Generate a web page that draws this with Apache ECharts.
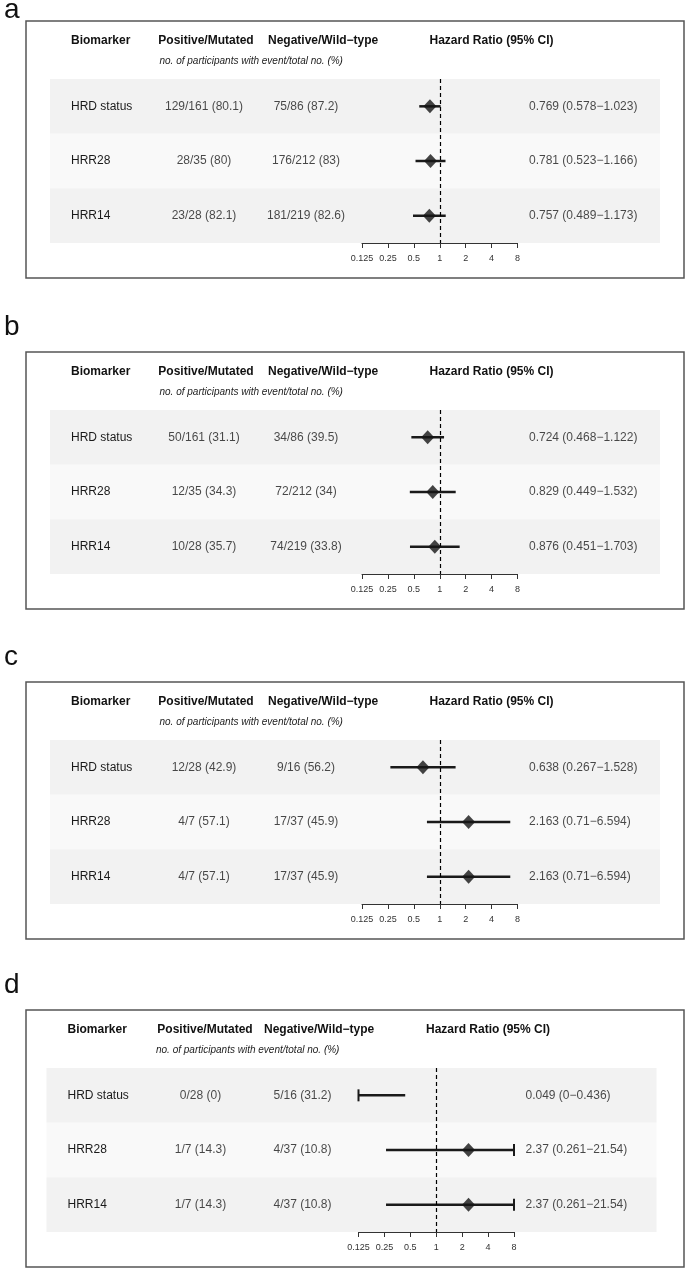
<!DOCTYPE html>
<html>
<head>
<meta charset="utf-8">
<script src="https://cdn.jsdelivr.net/npm/echarts@6/dist/echarts.min.js"></script>
<style>
html, body { margin: 0; padding: 0; background: #fff; }
#chart { width: 685px; height: 1268px; }
</style>
</head>
<body>
<div id="chart"></div>
<script>
// panel data
const panels = ['a', 'b', 'c', 'd'];
const biomarkers = ['HRD status', 'HRR28', 'HRR14'];
const positive = [
    ['129/161 (80.1)', '28/35 (80)', '23/28 (82.1)'],
    ['50/161 (31.1)', '12/35 (34.3)', '10/28 (35.7)'],
    ['12/28 (42.9)', '4/7 (57.1)', '4/7 (57.1)'],
    ['0/28 (0)', '1/7 (14.3)', '1/7 (14.3)']
];
const negative = [
    ['75/86 (87.2)', '176/212 (83)', '181/219 (82.6)'],
    ['34/86 (39.5)', '72/212 (34)', '74/219 (33.8)'],
    ['9/16 (56.2)', '17/37 (45.9)', '17/37 (45.9)'],
    ['5/16 (31.2)', '4/37 (10.8)', '4/37 (10.8)']
];
const hr = [
    [0.769, 0.781, 0.757],
    [0.724, 0.829, 0.876],
    [0.638, 2.163, 2.163],
    [0.049, 2.37, 2.37]
];
const lower = [
    [0.578, 0.523, 0.489],
    [0.468, 0.449, 0.451],
    [0.267, 0.71, 0.71],
    [0, 0.261, 0.261]
];
const upper = [
    [1.023, 1.166, 1.173],
    [1.122, 1.532, 1.703],
    [1.528, 6.594, 6.594],
    [0.436, 21.54, 21.54]
];
const hrTicks = [0.125, 0.25, 0.5, 1, 2, 4, 8];
const headers = ['Biomarker', 'Positive/Mutated', 'Negative/Wild\u2212type', 'Hazard Ratio (95% CI)'];
const subtitle = 'no. of participants with event/total no. (%)';

// layout
const FONT = '"Liberation Sans", Arial, Helvetica, sans-serif';
const boxTop = [21, 352, 682, 1010];
const shiftX = [0, 0, 0, -3.5];
const letterY = [10, 327, 657, 985];
const headerX = [
    [71, 206, 268, 491.5],
    [71, 206, 268, 491.5],
    [71, 206, 268, 491.5],
    [67.5, 205, 264, 488]
];
const colPos = { positive: 154, negative: 256, hr: 479 };
const xMin = hrTicks[0], xMax = hrTicks[hrTicks.length - 1];

const grid = [], xAxis = [], yAxis = [], series = [], graphic = [];

panels.forEach(function (name, p) {
    const top = boxTop[p];
    const dx = shiftX[p];
    const t = 2 * p, f = 2 * p + 1;

    // table area (bands + text columns)
    grid.push({ left: 50 + dx, top: top + 58, width: 610, height: 164 });
    // forest area
    grid.push({ left: 362 + dx, top: top + 58, width: 155.5, height: 164 });

    xAxis.push({ gridIndex: t, type: 'value', min: 0, max: 610, show: false });
    yAxis.push({
        gridIndex: t, type: 'category', data: biomarkers, inverse: true,
        axisLine: { show: false }, axisTick: { show: false }, splitLine: { show: false },
        splitArea: { show: true, areaStyle: { color: ['#f2f2f2', '#f9f9f9'] } },
        axisLabel: { inside: true, margin: 21, fontSize: 12, color: '#1a1a1a', fontFamily: FONT }
    });

    xAxis.push({
        gridIndex: f, type: 'log', logBase: 2, min: xMin, max: xMax, splitNumber: 6,
        axisLine: { show: true, lineStyle: { color: '#333', width: 1 } },
        axisTick: { show: true, length: 5, lineStyle: { color: '#333', width: 1 }, customValues: hrTicks },
        axisLabel: {
            fontSize: 9, color: '#333', margin: 11, fontFamily: FONT, customValues: hrTicks,
            formatter: function (v) { return String(+(+v).toFixed(3)); }
        },
        splitLine: { show: false }
    });
    yAxis.push({ gridIndex: f, type: 'category', data: biomarkers, inverse: true, show: false });

    // text columns
    const textCol = function (vals, x, align) {
        return {
            type: 'scatter', xAxisIndex: t, yAxisIndex: t, silent: true,
            symbolSize: 1, itemStyle: { color: 'rgba(0,0,0,0)' },
            data: vals.map(function (v, i) { return [x, i]; }),
            label: {
                show: true, position: 'inside', align: align, verticalAlign: 'middle',
                fontSize: 12, color: '#1a1a1a', fontFamily: FONT,
                formatter: function (prm) { return vals[prm.dataIndex]; }
            },
            z: 3
        };
    };
    const hrText = biomarkers.map(function (b, i) {
        return hr[p][i] + ' (' + lower[p][i] + '\u2212' + upper[p][i] + ')';
    });
    series.push(textCol(positive[p], colPos.positive, 'center'));
    series.push(textCol(negative[p], colPos.negative, 'center'));
    series.push(textCol(hrText, colPos.hr, 'left'));

    // confidence intervals
    series.push({
        type: 'custom', xAxisIndex: f, yAxisIndex: f, silent: true,
        data: biomarkers.map(function (b, i) { return [lower[p][i], upper[p][i], i]; }),
        encode: { x: [0, 1], y: 2 },
        renderItem: function (params, api) {
            const lo = api.value(0), hi = api.value(1), row = api.value(2);
            const p0 = api.coord([Math.max(lo, xMin), row]);
            const p1 = api.coord([Math.min(hi, xMax), row]);
            const st = { stroke: '#1a1a1a', lineWidth: 2.5 };
            const kids = [{ type: 'line', shape: { x1: p0[0], y1: p0[1], x2: p1[0], y2: p1[1] }, style: st }];
            if (lo < xMin) kids.push({ type: 'line', shape: { x1: p0[0], y1: p0[1] - 6, x2: p0[0], y2: p0[1] + 6 }, style: { stroke: '#1a1a1a', lineWidth: 2 } });
            if (hi > xMax) kids.push({ type: 'line', shape: { x1: p1[0], y1: p1[1] - 6, x2: p1[0], y2: p1[1] + 6 }, style: { stroke: '#1a1a1a', lineWidth: 2 } });
            return { type: 'group', children: kids };
        },
        z: 4
    });

    // point estimates + reference line at HR = 1
    series.push({
        type: 'scatter', xAxisIndex: f, yAxisIndex: f, silent: true,
        symbol: 'diamond', symbolSize: [13, 14],
        itemStyle: { color: '#151515' },
        data: biomarkers.map(function (b, i) { return [hr[p][i], i]; })
            .filter(function (d) { return d[0] >= xMin && d[0] <= xMax; }),
        markLine: {
            silent: true, symbol: ['none', 'none'], label: { show: false },
            lineStyle: { type: [4, 3], color: '#000', width: 1.2 },
            emphasis: { disabled: true },
            data: [{ xAxis: 1 }]
        },
        z: 5
    });

    // frame, letter and headers
    graphic.push({
        type: 'rect', shape: { x: 26, y: top, width: 658, height: 257 },
        style: { fill: 'none', stroke: '#555', lineWidth: 1.5 }, silent: true
    });
    graphic.push({
        type: 'text', x: 4, y: letterY[p],
        style: { text: name, font: '28px ' + FONT, fill: '#111', align: 'left', verticalAlign: 'middle' }
    });
    const hx = headerX[p];
    const hAlign = ['left', 'center', 'left', 'center'];
    headers.forEach(function (h, k) {
        graphic.push({
            type: 'text', x: hx[k], y: top + 19.5,
            style: { text: h, font: 'bold 12px ' + FONT, fill: '#111', align: hAlign[k], verticalAlign: 'middle' }
        });
    });
    graphic.push({
        type: 'text', x: 159.5 + dx, y: top + 40.5,
        style: { text: subtitle, font: 'italic 10px ' + FONT, fill: '#222', align: 'left', verticalAlign: 'middle' }
    });
});

const chart = echarts.init(document.getElementById('chart'), null, { renderer: 'canvas' });
chart.setOption({
    animation: false,
    backgroundColor: '#fff',
    grid: grid,
    xAxis: xAxis,
    yAxis: yAxis,
    series: series,
    graphic: graphic
});
</script>
</body>
</html>
